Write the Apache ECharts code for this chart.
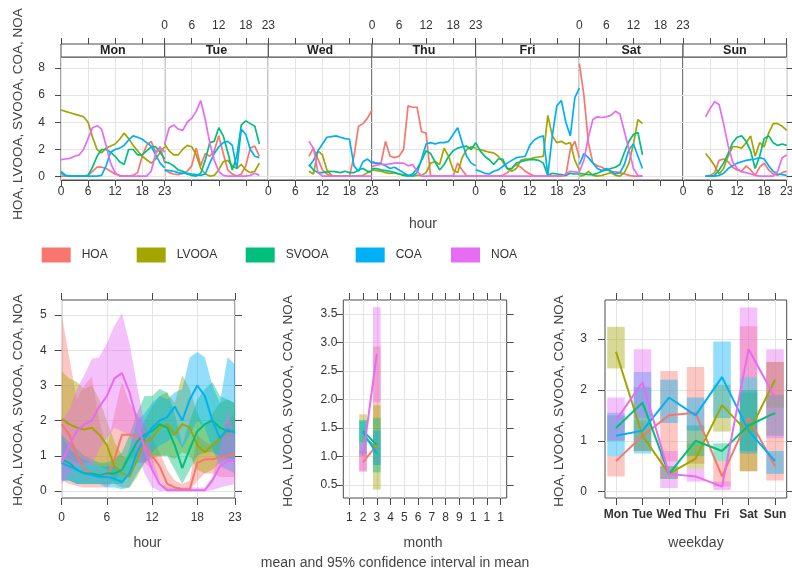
<!DOCTYPE html>
<html><head><meta charset="utf-8">
<script src="https://cdn.jsdelivr.net/npm/echarts@6/dist/echarts.min.js"></script>
<style>html,body{margin:0;padding:0;background:#fff}#c{width:792px;height:572px}</style>
</head><body><div id="c"></div>
<script>
// ---------------- DATA ----------------
const seriesNames = ['HOA', 'LVOOA', 'SVOOA', 'COA', 'NOA'];
const seriesColors = ['#F8766D', '#A3A500', '#00BF7D', '#00B0F6', '#E76BF3'];
const days = ['Mon', 'Tue', 'Wed', 'Thu', 'Fri', 'Sat', 'Sun'];
const hours = [0,1,2,3,4,5,6,7,8,9,10,11,12,13,14,15,16,17,18,19,20,21,22,23];
const hourTicks = [0, 6, 12, 18, 23];
const topYTicks = [0, 2, 4, 6, 8];
const hourYTicks = [0, 1, 2, 3, 4, 5];
const monthTicks = [1,2,3,4,5,6,7,8,9,10,11,12];
const monthTickLabels = ['1','2','3','4','5','6','7','8','9','1','1','1'];
const monthYTicks = [0.5, 1.0, 1.5, 2.0, 2.5, 3.0, 3.5];
const weekdayTicks = [0,1,2,3,4,5,6];
const weekdayYTicks = [0, 1, 2, 3];

// day-hour means, 24 values per day (Mon..Sun), null = no data
const hoaWeek = [
  0.05,0.05,0.05,0.05,0.05,0.05,0.1,0.4,0.7,0.7,0.6,0.4,0.2,0.1,0.05,0.05,0.1,0.3,1.5,2.3,2.6,1.8,2.2,1.0,
  0.5,0.3,0.2,0.15,0.25,0.4,0.8,2.1,0.8,1.7,1.5,1.9,3.0,1.7,0.5,0.2,0.05,0.2,0.8,2.1,2.25,1.5,null,null,
  null,null,null,null,null,null,null,null,null,1.5,2.1,1.3,0.5,0.2,0.05,0.05,0.05,0.05,0.05,1.5,3.7,3.9,4.3,4.9,
  1.0,1.0,1.0,2.6,1.5,1.4,1.5,2.0,5.2,5.1,5.1,3.3,3.2,0.05,0.05,0.05,0.05,0.05,0.05,1.0,0.5,0.05,0.05,0.05,
  0.05,0.05,0.05,0.05,0.05,0.05,0.1,0.3,0.6,0.9,0.7,0.4,0.2,0.05,0.05,0.05,0.05,0.05,0.05,0.05,0.1,2.0,2.6,1.4,
  8.3,6.0,2.5,1.0,0.8,0.7,0.5,0.4,0.35,0.3,0.2,0.1,0.05,0.05,0.05,null,null,null,null,null,null,null,null,null,
  null,null,null,null,null,0.05,0.1,0.3,1.2,1.3,1.1,0.7,0.5,0.4,0.8,0.5,0.1,0.7,1.0,0.5,0.2,0.1,0.3,0.4
];
const lvooaWeek = [
  4.9,4.8,4.7,4.6,4.5,4.4,4.0,2.9,2.0,1.75,2.1,2.25,2.4,2.75,3.2,2.8,2.3,1.9,1.5,1.25,1.0,1.3,1.8,2.2,
  2.4,1.9,1.6,1.6,2.0,2.3,2.2,1.6,0.6,0.2,0.05,0.1,0.5,1.1,1.2,0.8,0.6,0.9,0.5,0.3,0.4,1.0,null,null,
  null,null,null,null,null,null,null,null,null,0.4,0.2,1.9,1.6,0.5,0.1,0.05,0.05,0.05,0.05,0.05,0.05,0.1,0.3,0.4,
  0.5,0.45,0.4,0.3,0.25,0.3,0.2,0.15,0.1,0.05,0.1,0.1,0.3,1.0,1.1,0.9,2.1,1.5,0.5,0.3,1.4,2.0,2.2,2.1,
  2.0,2.0,1.9,1.8,1.75,1.5,1.1,0.6,0.4,0.6,1.2,1.3,1.3,1.4,1.45,1.5,4.5,3.0,2.5,2.6,2.4,2.5,1.2,0.5,
  0.05,0.1,0.4,0.1,0.05,0.1,0.2,0.3,0.1,0.05,0.3,1.0,2.4,4.2,3.9,null,null,null,null,null,null,null,null,null,
  null,null,null,null,null,1.7,1.3,0.8,0.2,0.6,1.5,2.2,2.2,2.1,2.5,3.0,1.5,2.5,2.2,3.2,3.9,3.9,3.7,3.4
];
const svooaWeek = [
  0.4,0.1,0.05,0.05,0.05,0.05,0.1,0.7,1.5,2.0,2.0,1.8,1.5,1.1,0.9,2.0,2.0,1.6,1.6,1.9,2.2,2.2,1.8,1.3,
  1.1,1.0,0.8,0.5,0.4,0.2,0.1,0.05,0.25,1.2,2.5,2.6,3.6,3.0,1.8,0.5,1.5,3.8,4.1,3.9,3.7,2.4,null,null,
  null,null,null,null,null,null,null,null,null,0.9,0.5,0.3,0.3,0.35,0.4,0.35,0.3,0.4,0.3,0.3,0.5,0.6,0.4,0.4,
  0.6,0.6,0.5,0.45,0.4,0.3,0.2,0.1,0.05,0.2,0.6,1.2,1.9,1.7,1.1,0.5,0.9,1.5,1.9,2.1,2.2,2.25,2.0,2.5,
  2.5,1.9,1.5,1.25,0.9,1.3,1.3,0.6,0.6,1.0,1.1,1.2,1.25,1.25,1.2,1.0,0.1,0.25,0.2,0.15,0.1,0.25,0.2,0.2,
  0.25,0.2,0.15,0.15,0.25,0.4,0.5,0.6,0.7,0.9,1.8,2.6,3.1,3.25,1.6,null,null,null,null,null,null,null,null,null,
  null,null,null,null,null,0.05,0.05,0.1,0.5,1.0,1.7,2.5,2.9,3.0,2.6,1.9,0.6,1.5,2.8,3.0,2.5,2.3,2.4,2.3
];
const coaWeek = [
  0.25,0.1,0.05,0.05,0.05,0.05,0.05,0.05,0.05,0.1,0.8,1.8,2.0,2.1,2.3,2.7,3.0,2.9,2.75,2.5,2.25,1.6,1.0,0.65,
  0.5,0.45,0.4,0.3,0.25,0.25,0.2,0.15,0.1,0.2,1.0,1.7,2.2,2.5,2.6,2.3,0.6,3.5,3.1,2.0,1.5,1.4,null,null,
  null,null,null,null,null,null,null,null,null,0.75,1.2,1.9,2.4,2.9,2.95,3.0,2.9,2.8,2.75,0.8,0.4,1.1,1.3,1.0,
  1.1,1.0,0.95,0.8,0.6,0.7,0.5,0.3,0.1,0.05,0.3,1.3,2.4,2.5,2.4,2.5,2.5,2.6,3.1,3.6,2.5,1.5,1.0,0.8,
  0.5,0.4,0.25,0.2,0.4,0.5,0.75,1.0,1.2,1.4,1.45,1.5,2.3,2.7,2.9,3.0,0.1,3.0,5.2,5.6,4.0,3.0,5.8,6.5,
  0.9,1.7,1.4,1.0,0.6,0.45,0.6,0.4,0.2,0.3,0.9,2.0,2.4,1.5,0.6,null,null,null,null,null,null,null,null,null,
  null,null,null,null,null,0.05,0.05,0.05,0.1,0.25,0.6,0.8,1.0,1.1,1.2,1.25,1.3,1.4,1.3,0.8,0.4,0.2,0.15,0.1
];
const noaWeek = [
  1.25,1.3,1.35,1.5,1.6,2.0,2.8,3.6,3.75,3.5,2.3,1.0,0.3,0.05,0.05,0.05,0.05,0.05,0.05,0.05,0.4,1.7,2.1,1.8,
  2.4,3.6,3.8,3.5,3.4,4.0,4.3,4.8,5.6,4.2,2.5,1.2,0.4,0.1,0.05,0.05,0.05,0.05,0.05,0.1,0.25,0.1,null,null,
  null,null,null,null,null,null,null,null,null,2.6,2.1,0.3,0.05,0.05,0.05,0.05,0.05,0.05,0.05,0.05,0.05,0.05,0.05,0.05,
  0.75,0.85,0.9,0.9,0.95,1.0,1.0,1.0,0.8,0.9,0.4,0.05,0.05,0.05,0.05,0.05,0.05,0.05,0.05,0.05,0.05,0.05,0.05,0.05,
  0.05,0.05,0.05,0.05,0.05,0.05,0.05,0.05,0.05,0.05,0.05,0.05,0.05,0.05,0.05,0.05,0.05,0.05,0.05,0.05,0.2,0.4,0.35,0.3,
  0.35,1.2,2.9,4.2,4.4,4.35,4.4,4.5,4.8,4.6,3.3,2.0,0.6,0.1,0.05,null,null,null,null,null,null,null,null,null,
  null,null,null,null,null,4.4,5.0,5.5,5.3,3.9,2.3,1.1,0.6,0.35,0.3,0.2,0.1,0.05,0.05,0.05,0.05,0.4,1.4,1.6
];

// hour-of-day: mean, lower and upper 95% CI
const hoaHourMean = [1.9,1.6,1.0,0.6,0.5,0.45,0.4,0.9,1.6,1.6,1.55,1.3,1.0,0.7,0.2,0.1,0.05,0.05,0.8,0.9,0.9,0.95,1.0,1.05];
const hoaHourLo   = [0.3,0.2,0.15,0.1,0.1,0.1,0.1,0.3,0.6,0.9,1.0,0.8,0.6,0.3,0.02,0.0,0.0,0.0,0.3,0.5,0.5,0.4,0.4,0.4];
const hoaHourHi   = [5.0,3.8,2.6,3.0,3.25,2.0,1.2,2.2,3.1,2.5,2.2,1.9,1.5,1.1,0.6,0.3,0.2,0.3,1.6,1.4,1.3,1.5,2.0,2.2];
const lvooaHourMean = [2.05,1.9,1.8,1.75,1.8,1.6,1.3,0.7,0.5,0.4,0.9,1.4,1.5,1.8,1.9,1.6,1.9,1.8,1.3,1.1,1.3,1.5,1.7,1.7];
const lvooaHourLo   = [1.0,0.9,0.8,0.8,0.8,0.7,0.6,0.2,0.1,0.1,0.4,0.8,0.9,1.0,1.0,0.9,1.1,1.0,0.6,0.5,0.6,0.8,0.9,0.9];
const lvooaHourHi   = [3.4,3.2,3.1,2.9,3.0,2.6,2.0,1.4,1.0,0.9,1.5,2.0,2.4,2.7,2.8,2.5,3.3,2.9,2.2,1.8,2.2,2.5,2.6,2.5];
const svooaHourMean = [0.9,0.8,0.6,0.5,0.5,0.45,0.5,0.5,0.6,1.0,1.4,1.6,1.7,1.9,1.8,1.3,0.65,1.2,1.7,1.9,2.0,1.8,1.7,1.7];
const svooaHourLo   = [0.3,0.3,0.2,0.2,0.2,0.2,0.2,0.2,0.2,0.5,0.8,0.8,1.0,1.0,1.0,0.6,0.2,0.6,1.0,1.1,1.1,1.0,0.9,0.9];
const svooaHourHi   = [1.6,1.4,1.2,1.0,0.9,0.8,0.8,0.9,1.1,1.6,2.2,2.7,2.7,2.9,2.8,2.2,1.3,2.0,2.6,2.9,3.1,2.7,2.6,2.5];
const coaHourMean = [0.8,0.7,0.6,0.5,0.45,0.4,0.4,0.35,0.25,0.5,1.1,1.5,1.8,2.0,2.1,2.4,2.0,2.6,3.0,2.7,2.0,1.5,1.75,1.65];
const coaHourLo   = [0.3,0.3,0.2,0.2,0.2,0.2,0.1,0.1,0.05,0.1,0.5,0.8,1.1,1.3,1.4,1.6,1.2,1.6,2.0,1.8,1.2,0.7,0.6,0.5];
const coaHourHi   = [1.6,1.2,1.0,0.9,0.8,0.7,0.7,0.7,0.6,1.2,2.0,2.2,2.5,2.7,2.6,2.8,2.9,3.8,3.95,3.8,3.0,2.5,3.8,3.6];
const noaHourMean = [0.8,1.3,1.7,1.9,2.0,2.4,2.7,3.2,3.35,2.8,2.0,1.2,0.6,0.2,0.02,0.02,0.02,0.02,0.02,0.02,0.3,0.7,0.85,0.85];
const noaHourLo   = [0.2,0.5,0.7,0.8,0.7,1.2,1.5,1.8,1.7,1.6,1.1,0.5,0.1,0.0,0.0,0.0,0.0,0.0,0.0,0.0,0.02,0.1,0.15,0.2];
const noaHourHi   = [2.0,2.3,2.9,3.3,3.75,3.8,4.2,4.7,5.05,4.2,3.0,1.9,1.0,0.3,0.1,0.1,0.1,0.1,0.1,0.1,0.4,1.2,2.3,1.5];

// month (only Feb and Mar present)
const monthsPresent = [2, 3];
const hoaMonthMean = [0.9, 1.2];    const hoaMonthLo = [0.75, 0.85];  const hoaMonthHi = [1.1, 2.93];
const lvooaMonthMean = [1.35, 1.15]; const lvooaMonthLo = [1.0, 0.42]; const lvooaMonthHi = [1.74, 1.9];
const svooaMonthMean = [1.45, 1.2]; const svooaMonthLo = [1.25, 0.72]; const svooaMonthHi = [1.64, 1.68];
const coaMonthMean = [1.42, 1.05];  const coaMonthLo = [1.05, 0.85];  const coaMonthHi = [1.62, 1.45];
const noaMonthMean = [1.0, 2.8];    const noaMonthLo = [0.73, 1.95];  const noaMonthHi = [1.25, 3.62];

// weekday (Mon..Sun)
const hoaDayMean = [0.6, 1.1, 1.5, 1.55, 0.3, 1.45, 0.5];
const hoaDayLo   = [0.3, 0.8, 0.6, 0.55, 0.1, 0.4, 0.22];
const hoaDayHi   = [0.7, 1.4, 2.37, 2.45, 0.6, 3.25, 2.55];
const lvooaDayMean = [2.75, 1.1, 0.35, 0.65, 1.7, 1.15, 2.2];
const lvooaDayLo   = [2.42, 0.8, 0.25, 0.45, 1.18, 0.4, 1.65];
const lvooaDayHi   = [3.24, 1.45, 0.5, 0.95, 2.1, 1.95, 2.55];
const svooaDayMean = [1.25, 1.75, 0.35, 1.0, 0.8, 1.3, 1.55];
const svooaDayLo   = [1.0, 1.45, 0.25, 0.7, 0.6, 0.8, 1.1];
const svooaDayHi   = [1.5, 2.05, 0.5, 1.3, 0.95, 2.0, 1.9];
const coaDayMean = [1.1, 1.2, 1.85, 1.5, 2.25, 1.2, 0.6];
const coaDayLo   = [0.7, 0.75, 1.35, 1.2, 1.45, 0.75, 0.35];
const coaDayHi   = [1.55, 2.35, 2.2, 1.85, 2.95, 2.25, 0.8];
const noaDayMean = [1.4, 2.15, 0.35, 0.3, 0.1, 2.8, 1.85];
const noaDayLo   = [1.0, 1.45, 0.07, 0.2, 0.03, 2.25, 1.05];
const noaDayHi   = [1.85, 2.8, 0.8, 0.45, 0.2, 3.62, 2.8];

// ---------------- CHART ----------------
const weekly = [hoaWeek, lvooaWeek, svooaWeek, coaWeek, noaWeek];
const hourMean = [hoaHourMean, lvooaHourMean, svooaHourMean, coaHourMean, noaHourMean];
const hourLo = [hoaHourLo, lvooaHourLo, svooaHourLo, coaHourLo, noaHourLo];
const hourHi = [hoaHourHi, lvooaHourHi, svooaHourHi, coaHourHi, noaHourHi];
const monthMean = [hoaMonthMean, lvooaMonthMean, svooaMonthMean, coaMonthMean, noaMonthMean];
const monthLo = [hoaMonthLo, lvooaMonthLo, svooaMonthLo, coaMonthLo, noaMonthLo];
const monthHi = [hoaMonthHi, lvooaMonthHi, svooaMonthHi, coaMonthHi, noaMonthHi];
const dayMean = [hoaDayMean, lvooaDayMean, svooaDayMean, coaDayMean, noaDayMean];
const dayLo = [hoaDayLo, lvooaDayLo, svooaDayLo, coaDayLo, noaDayLo];
const dayHi = [hoaDayHi, lvooaDayHi, svooaDayHi, coaDayHi, noaDayHi];

const FF = "'Liberation Sans', Arial, Helvetica, sans-serif";
const AX = '#4a4a4a';
const GRIDC = '#e4e4e4';
const TXT = '#333';
const TITLE = '#444';

function mkAxis(gi, pos, min, max, ticks, o) {
  o = o || {};
  const lab = {show: !!o.label, customValues: ticks, margin: o.margin == null ? 8 : o.margin,
    fontSize: o.fontSize || 12, fontWeight: o.bold ? 'bold' : 'normal', color: TXT, fontFamily: FF};
  if (o.fmt) lab.formatter = o.fmt;
  return {
    type: 'value', gridIndex: gi, position: pos, min: min, max: max, offset: o.offset || 0,
    axisLine: {show: !!o.line, onZero: false, lineStyle: {color: AX, width: 1}},
    axisTick: {show: o.tick !== false, inside: false, length: o.tickLen || 6, customValues: ticks, lineStyle: {color: AX, width: 1}},
    axisLabel: lab,
    splitLine: {show: !!o.split, lineStyle: {color: GRIDC, width: 1}}
  };
}

const grids = [], xAxes = [], yAxes = [], series = [], graphics = [];
const topL = 61, topR = 786.7, topT = 57, topB = 180;
const panelW = (topR - topL) / 7;
const TY = [-0.24, 8.79];

days.forEach((d, i) => {
  const left = topL + i * panelW;
  grids.push({left: left, top: topT, width: panelW, height: topB - topT, show: true,
    borderColor: AX, borderWidth: 1, backgroundColor: 'transparent', containLabel: false, outerBoundsMode: 'none'});
  xAxes.push(mkAxis(i, 'bottom', 0, 23, hourTicks, {line: true, label: i % 2 === 0, margin: 6, split: true}));
  xAxes.push(mkAxis(i, 'top', 0, 23, hourTicks, {line: true, label: i % 2 === 1, margin: 12, offset: 13}));
  yAxes.push(mkAxis(i, 'left', TY[0], TY[1], topYTicks, {tick: i === 0, label: i === 0, margin: 16, split: true}));
  // strip
  graphics.push({type: 'rect', shape: {x: left, y: 44, width: panelW, height: 13},
    style: {fill: '#fff', stroke: AX, lineWidth: 1}, z: 10, silent: true});
  graphics.push({type: 'text', x: left + panelW / 2, y: 50.5, z: 11, silent: true,
    style: {text: d, fill: '#222', font: 'bold 12.5px ' + FF, textAlign: 'center', textVerticalAlign: 'middle'}});
  weekly.forEach((arr, k) => {
    const pts = [];
    hours.forEach(h => { const v = arr[i * 24 + h]; if (v !== null) pts.push([h, v]); });
    series.push({type: 'line', name: seriesNames[k], xAxisIndex: 2 * i, yAxisIndex: i, data: pts,
      symbol: 'none', showSymbol: false, silent: true, lineStyle: {color: seriesColors[k], width: 1.7},
      itemStyle: {color: seriesColors[k]}, z: 3});
  });
});
// right ticks for Sun panel
yAxes.push(mkAxis(6, 'right', TY[0], TY[1], topYTicks, {tick: true}));

// ---- bottom panels ----
const bT = 300, bB = 498;
// A: hour
const gA = grids.length;
grids.push({left: 61.7, top: bT, width: 173.3, height: bB - bT, show: true, borderColor: AX, borderWidth: 1,
  backgroundColor: 'transparent', containLabel: false, outerBoundsMode: 'none'});
const xA = xAxes.length;
xAxes.push(mkAxis(gA, 'bottom', 0, 23, hourTicks, {label: true, margin: 14, split: true, tickLen: 7}));
xAxes.push(mkAxis(gA, 'top', 0, 23, hourTicks, {tickLen: 7}));
const yA = yAxes.length;
yAxes.push(mkAxis(gA, 'left', -0.2, 5.43, hourYTicks, {label: true, margin: 15, split: true, tickLen: 7}));
yAxes.push(mkAxis(gA, 'right', -0.2, 5.43, hourYTicks, {tickLen: 7}));

// B: month
const gB = grids.length;
grids.push({left: 343.3, top: bT, width: 163.4, height: bB - bT, show: true, borderColor: AX, borderWidth: 1,
  backgroundColor: 'transparent', containLabel: false, outerBoundsMode: 'none'});
const xB = xAxes.length;
xAxes.push(mkAxis(gB, 'bottom', 0.565, 12.435, monthTicks, {label: true, margin: 14, split: true, tickLen: 7,
  fmt: v => monthTickLabels[Math.round(v) - 1]}));
xAxes.push(mkAxis(gB, 'top', 0.565, 12.435, monthTicks, {tickLen: 7}));
const yB = yAxes.length;
yAxes.push(mkAxis(gB, 'left', 0.272, 3.746, monthYTicks, {label: true, margin: 6, split: true, tickLen: 7,
  fmt: v => v.toFixed(1)}));
yAxes.push(mkAxis(gB, 'right', 0.272, 3.746, monthYTicks, {tickLen: 7}));

// C: weekday
const gC = grids.length;
grids.push({left: 605, top: bT, width: 181.7, height: bB - bT, show: true, borderColor: AX, borderWidth: 1,
  backgroundColor: 'transparent', containLabel: false, outerBoundsMode: 'none'});
const xC = xAxes.length;
xAxes.push(mkAxis(gC, 'bottom', -0.415, 6.44, weekdayTicks, {label: true, margin: 11, split: true, tickLen: 7, bold: true,
  fmt: v => days[Math.round(v)]}));
xAxes.push(mkAxis(gC, 'top', -0.415, 6.44, weekdayTicks, {tickLen: 7}));
const yC = yAxes.length;
yAxes.push(mkAxis(gC, 'left', -0.124, 3.766, weekdayYTicks, {label: true, margin: 18, split: true, tickLen: 7}));
yAxes.push(mkAxis(gC, 'right', -0.124, 3.766, weekdayYTicks, {tickLen: 7}));

const BAND_OP = 0.42;
function rectSeries(xi, yi, data, color, halfW) {
  return {type: 'custom', xAxisIndex: xi, yAxisIndex: yi, data: data, silent: true, z: 2,
    encode: {x: 0, y: [1, 2]},
    renderItem: function (params, api) {
      const x = api.value(0), lo = api.value(1), hi = api.value(2);
      const p1 = api.coord([x - halfW, hi]);
      const p2 = api.coord([x + halfW, lo]);
      return {type: 'rect', shape: {x: p1[0], y: p1[1], width: p2[0] - p1[0], height: p2[1] - p1[1]},
        style: {fill: color, opacity: BAND_OP}};
    }};
}
// confidence band polygon drawn once (on the first item) through the axis scales
function bandSeries(xi, yi, xs, lo, hi, color) {
  return {type: 'custom', xAxisIndex: xi, yAxisIndex: yi, silent: true, z: 2,
    data: xs.map((x, j) => [x, lo[j], hi[j]]), encode: {x: 0, y: [1, 2]},
    renderItem: function (params, api) {
      if (params.dataIndex !== 0) return {type: 'group', children: []};
      const upper = xs.map((x, j) => api.coord([x, hi[j]]));
      const lower = xs.map((x, j) => api.coord([x, lo[j]])).reverse();
      return {type: 'polygon', shape: {points: upper.concat(lower)}, style: {fill: color, opacity: BAND_OP}};
    }};
}

seriesNames.forEach((nm, k) => {
  const c = seriesColors[k];
  // hour band + line
  series.push(bandSeries(xA, yA, hours, hourLo[k], hourHi[k], c));
  series.push({type: 'line', name: nm, xAxisIndex: xA, yAxisIndex: yA,
    data: hours.map(h => [h, hourMean[k][h]]), symbol: 'none', silent: true,
    lineStyle: {color: c, width: 2}, itemStyle: {color: c}, z: 2});
  // month
  series.push(rectSeries(xB, yB, monthsPresent.map((m, j) => [m, monthLo[k][j], monthHi[k][j]]), c, 0.28));
  series.push({type: 'line', name: nm, xAxisIndex: xB, yAxisIndex: yB,
    data: monthsPresent.map((m, j) => [m, monthMean[k][j]]), symbol: 'none', silent: true,
    lineStyle: {color: c, width: 2}, itemStyle: {color: c}, z: 2});
  // weekday
  series.push(rectSeries(xC, yC, weekdayTicks.map(d => [d, dayLo[k][d], dayHi[k][d]]), c, 0.33));
  series.push({type: 'line', name: nm, xAxisIndex: xC, yAxisIndex: yC,
    data: weekdayTicks.map(d => [d, dayMean[k][d]]), symbol: 'none', silent: true,
    lineStyle: {color: c, width: 2}, itemStyle: {color: c}, z: 2});
});

// legends: one per item for exact placement
const legendX = [41.7, 136.7, 245.7, 355.7, 451];
const legends = seriesNames.map((nm, k) => ({
  data: [{name: nm, icon: 'rect', itemStyle: {color: seriesColors[k], opacity: 1}}],
  left: legendX[k], top: 247.5, itemWidth: 29, itemHeight: 15, selectedMode: false, padding: 0,
  textStyle: {color: TXT, fontSize: 12, fontFamily: FF, padding: [0, 0, 0, 6]}
}));

// titles
function vtitle(x, y, txt) {
  return {type: 'text', x: x, y: y, rotation: Math.PI / 2, silent: true,
    style: {text: txt, fill: TITLE, font: '13.5px ' + FF, textAlign: 'center', textVerticalAlign: 'middle'}};
}
function htitle(x, y, txt) {
  return {type: 'text', x: x, y: y, silent: true,
    style: {text: txt, fill: TITLE, font: '14px ' + FF, textAlign: 'center', textVerticalAlign: 'middle'}};
}
const yTitle = 'HOA, LVOOA, SVOOA, COA, NOA';
graphics.push(vtitle(18, 114, yTitle));
graphics.push(vtitle(18, 400, yTitle));
graphics.push(vtitle(288, 401, yTitle));
graphics.push(vtitle(559, 401, yTitle));
graphics.push(htitle(423, 224, 'hour'));
graphics.push(htitle(147.5, 543, 'hour'));
graphics.push(htitle(423, 543, 'month'));
graphics.push(htitle(696, 543, 'weekday'));
graphics.push(htitle(395, 563, 'mean and 95% confidence interval in mean'));

const chart = echarts.init(document.getElementById('c'), null, {renderer: 'canvas'});
chart.setOption({
  animation: false,
  backgroundColor: '#fff',
  grid: grids,
  xAxis: xAxes,
  yAxis: yAxes,
  legend: legends,
  series: series,
  graphic: {elements: graphics}
});
</script></body></html>
